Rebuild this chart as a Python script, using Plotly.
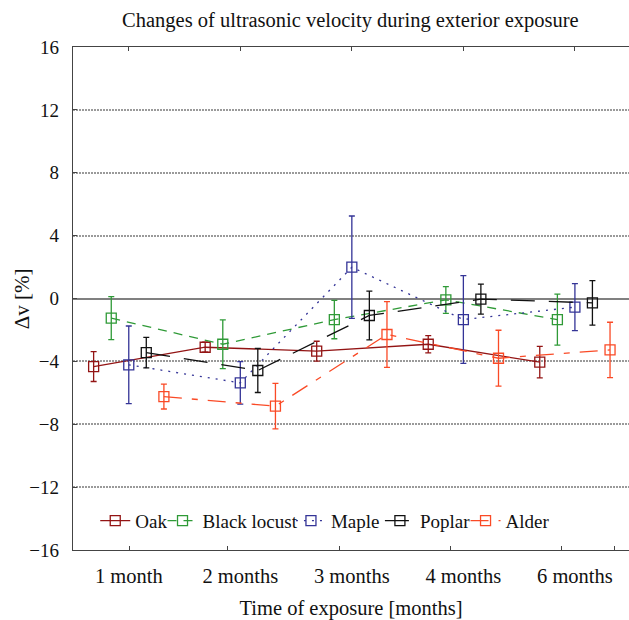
import plotly.graph_objects as go

# Exposure periods (category labels on the x axis)
periods = ["1 month", "2 months", "3 months", "4 months", "6 months"]

# Mean change of ultrasonic velocity [%] per wood species
oak = [-4.33, -3.10, -3.35, -2.91, -4.05]
black_locust = [-1.25, -2.91, -1.34, -0.09, -1.34]
maple = [-4.22, -5.37, 1.99, -1.34, -0.55]
poplar = [-3.44, -4.58, -1.08, -0.04, -0.28]
alder = [-6.24, -6.85, -2.29, -3.80, -3.27]

# Standard deviations (error bar half-lengths) [%]
oak_err = [0.95, 0.32, 0.63, 0.55, 1.00]
black_locust_err = [1.37, 1.55, 1.22, 0.85, 1.62]
maple_err = [2.47, 1.35, 3.26, 2.79, 1.50]
poplar_err = [0.97, 1.40, 1.55, 0.95, 1.42]
alder_err = [0.79, 1.45, 2.09, 1.78, 1.76]

y_ticks = [16, 12, 8, 4, 0, -4, -8, -12, -16]

SERIF = "Liberation Serif"
INK = "#111111"

# name, values, errors, colour, dash pattern, x offset, legend id, legend x
series = [
    ("Oak", oak, oak_err, "#931414", "solid", -0.315, "legend", 0.040),
    ("Black locust", black_locust, black_locust_err, "#2f9a37", "9px,7px",
     -0.157, "legend2", 0.161),
    ("Maple", maple, maple_err, "#343497", "2px,6px", 0.0, "legend3", 0.392),
    ("Poplar", poplar, poplar_err, "#111111", "24px,14px", 0.157, "legend4",
     0.552),
    ("Alder", alder, alder_err, "#fa4a26", "18px,10px,6px,10px", 0.315,
     "legend5", 0.706),
]

fig = go.Figure()
legend_layout = {}
for name, vals, errs, color, dash, shift, leg, leg_x in series:
    xs = [i + 1 + shift for i in range(len(periods))]
    fig.add_trace(go.Scatter(
        x=xs, y=vals, name=name, mode="lines+markers", legend=leg,
        line=dict(color=color, width=1.3, dash=dash),
        marker=dict(symbol="square-open", size=10, color=color,
                    line=dict(width=1.3, color=color)),
        error_y=dict(type="data", array=errs, visible=True,
                     color=color, thickness=1.3, width=3),
    ))
    legend_layout[leg] = dict(
        orientation="h", x=leg_x, y=0.058, xanchor="left", yanchor="middle",
        bgcolor="rgba(0,0,0,0)", borderwidth=0,
        font=dict(family=SERIF, size=19, color=INK), itemwidth=30)

x_range = [0.5, 5.485]

# Bottom tick marks of the frame (drawn without labels)
bottom_marks = [1.006, 1.884, 2.888, 3.882, 4.877, 5.352]

fig.update_layout(
    width=629, height=620,
    margin=dict(l=73, r=0, t=47, b=70),
    paper_bgcolor="white", plot_bgcolor="white",
    font=dict(family=SERIF, size=19, color=INK),
    title=dict(text="Changes of ultrasonic velocity during exterior exposure",
               x=0.557, xanchor="center", y=0.968, yanchor="middle",
               font=dict(family=SERIF, size=20.5, color=INK)),
    showlegend=True,
    **legend_layout,
    xaxis=dict(range=x_range, tickmode="array",
               tickvals=[i + 1 for i in range(len(periods))],
               ticktext=periods, ticks="", showgrid=False, zeroline=False,
               showline=True, linecolor="#444444", linewidth=1.3,
               ticklabelstandoff=7,
               tickfont=dict(family=SERIF, size=20.5, color=INK),
               title=dict(text="Time of exposure [months]", standoff=15,
                          font=dict(family=SERIF, size=20.5, color=INK))),
    xaxis2=dict(range=x_range, overlaying="x", anchor="y", side="top",
                tickmode="array",
                tickvals=[i + 1 for i in range(len(periods))],
                showticklabels=False, ticks="inside", ticklen=4,
                tickcolor="#444444", showgrid=False, zeroline=False,
                showline=True, linecolor="#444444", linewidth=1.3),
    xaxis3=dict(range=x_range, overlaying="x", anchor="y", side="bottom",
                tickmode="array", tickvals=bottom_marks,
                showticklabels=False, ticks="inside", ticklen=4,
                tickcolor="#444444", showgrid=False, zeroline=False,
                showline=False),
    yaxis=dict(range=[-16, 16], tickmode="array", tickvals=y_ticks,
               ticks="inside", ticklen=4, tickcolor="#444444",
               showgrid=True, gridcolor="#9a9a9a", griddash="2px,1px",
               gridwidth=1.5,
               zeroline=True, zerolinecolor="#808080", zerolinewidth=2.2,
               showline=True, linecolor="#444444", linewidth=1.3,
               ticklabelstandoff=9,
               tickfont=dict(family=SERIF, size=19, color=INK)),
    annotations=[dict(text="Δv [%]", textangle=-90, xref="paper",
                      yref="paper", x=-0.092, y=0.5, xanchor="center",
                      yanchor="middle", showarrow=False,
                      font=dict(family=SERIF, size=21, color=INK))],
)

# Empty helper traces so the overlay axes are laid out
fig.add_trace(go.Scatter(x=[None], y=[None], xaxis="x2", showlegend=False,
                         hoverinfo="skip"))
fig.add_trace(go.Scatter(x=[None], y=[None], xaxis="x3", showlegend=False,
                         hoverinfo="skip"))

fig.write_html("out.html")
